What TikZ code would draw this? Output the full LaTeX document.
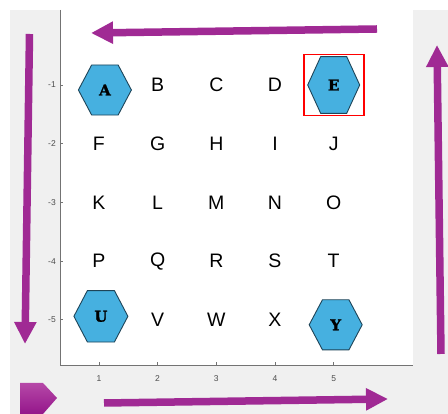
\documentclass[tikz,border=0pt]{standalone}
\usepackage{fontspec}
\setmainfont{Liberation Sans}
\newfontfamily\hexfont{DejaVu Serif}[BoldFont={DejaVu Serif Bold}, BoldFeatures={FakeBold=1.6}]
\usepackage{tikz}
\usetikzlibrary{positioning}
\usetikzlibrary{shapes.geometric,arrows.meta}
\definecolor{plotgray}{RGB}{240,240,240}
\definecolor{arrowpurple}{RGB}{160,42,148}
\definecolor{pentatop}{RGB}{182,72,168}
\definecolor{pentabot}{RGB}{148,22,138}
\definecolor{hexblue}{RGB}{70,176,224}
\definecolor{hexline}{RGB}{30,68,88}

\begin{document}
\begin{tikzpicture}[x=1pt, y=1pt, node distance=58.7pt]
\tikzstyle{every node}=[inner sep=0pt]
\tikzstyle{letter}=[font=\fontsize{19.5}{20}\selectfont, text=black]
\tikzstyle{hexa}=[regular polygon, regular polygon sides=6, minimum size=53pt, fill=hexblue, draw=hexline, line width=0.9pt]
\tikzstyle{hexletter}=[font=\hexfont\bfseries\fontsize{15}{15}\selectfont, text=black]
\tikzstyle{ticklabel}=[font=\fontsize{8.5}{9}\selectfont, text=black!70]
\tikzstyle{axisline}=[draw=black!55, line width=0.6pt]
\tikzstyle{bigarrow}=[draw=arrowpurple, line width=7.5pt, -{Triangle[length=22pt, width=21pt]}]
\useasboundingbox (0,0) rectangle (448,414);
% figure and axes
\fill[plotgray] (10,0) rectangle (448,404);
\fill[white] (60,49) rectangle (413,404);
\draw[axisline] (60,404) -- (60,49) -- (413,49);
\draw[axisline] (98.9,49) -- (98.9,52) (157.6,49) -- (157.6,52) (216.3,49) -- (216.3,52)
  (275,49) -- (275,52) (333.7,49) -- (333.7,52);
\draw[axisline] (60,329) -- (63,329) (60,270.3) -- (63,270.3) (60,211.6) -- (63,211.6)
  (60,152.9) -- (63,152.9) (60,94.2) -- (63,94.2);
\node[ticklabel] (x1) at (98.9,35) {1};
\node[ticklabel] (x2) at (157.6,35) {2};
\node[ticklabel] (x3) at (216.3,35) {3};
\node[ticklabel] (x4) at (275,35) {4};
\node[ticklabel] (x5) at (333.7,35) {5};
\node[ticklabel, anchor=east] (y1) at (56,329) {-1};
\node[ticklabel, anchor=east] (y2) at (56,270.3) {-2};
\node[ticklabel, anchor=east] (y3) at (56,211.6) {-3};
\node[ticklabel, anchor=east] (y4) at (56,152.9) {-4};
\node[ticklabel, anchor=east] (y5) at (56,94.2) {-5};
% letter grid
\node[letter] (B) at (157.6,329) {B};
\node[letter] (C) [right of=B] {C};
\node[letter] (D) [right of=C] {D};
\node[hexa, xshift=6pt, yshift=-5pt, yscale=1.09, label={[hexletter]center:A}] (A) [left of=B] {};
\node[hexa, minimum size=52pt, yscale=1.26, label={[hexletter]center:E}] (E) [right of=D] {};
\node[letter] (G) [below of=B] {G};
\node[letter] (F) [left of=G] {F};
\node[letter] (H) [right of=G] {H};
\node[letter] (I) [right of=H] {I};
\node[letter] (J) [right of=I] {J};
\node[letter] (L) [below of=G] {L};
\node[letter] (K) [left of=L] {K};
\node[letter] (M) [right of=L] {M};
\node[letter] (N) [right of=M] {N};
\node[letter] (O) [right of=N] {O};
\node[letter] (Q) [below of=L] {Q};
\node[letter] (P) [left of=Q] {P};
\node[letter] (R) [right of=Q] {R};
\node[letter] (S) [right of=R] {S};
\node[letter] (T) [right of=S] {T};
\node[letter] (V) [below of=Q] {V};
\node[hexa, minimum size=54pt, xshift=2pt, yshift=3.5pt, yscale=1.1, label={[hexletter]center:U}] (U) [left of=V] {};
\node[letter] (W) [right of=V] {W};
\node[letter] (X) [right of=W] {X};
\node[hexa, xshift=2pt, yshift=-5pt, yscale=1.09, label={[hexletter]center:Y}] (Y) [right of=X] {};
\node[draw=red, line width=1.6pt, minimum width=60pt, minimum height=60.7pt] (Ebox) at (E) {};
% arrows round the grid
\coordinate (topstart) at (377,385);
\coordinate (toptip) at (91,381);
\coordinate (leftstart) at (29.5,380);
\coordinate (lefttip) at (25,70);
\coordinate (botstart) at (104,11);
\coordinate (bottip) at (388,15);
\coordinate (rightstart) at (441,60);
\coordinate (righttip) at (437,369);
\draw[bigarrow] (topstart) -- (toptip);
\draw[bigarrow] (leftstart) -- (lefttip);
\draw[bigarrow] (botstart) -- (bottip);
\draw[bigarrow] (rightstart) -- (righttip);
\shade[top color=pentatop, bottom color=pentabot] (20,0) -- (20,31) -- (43,31) -- (57,16) -- (43,0) -- cycle;
\end{tikzpicture}
\end{document}
